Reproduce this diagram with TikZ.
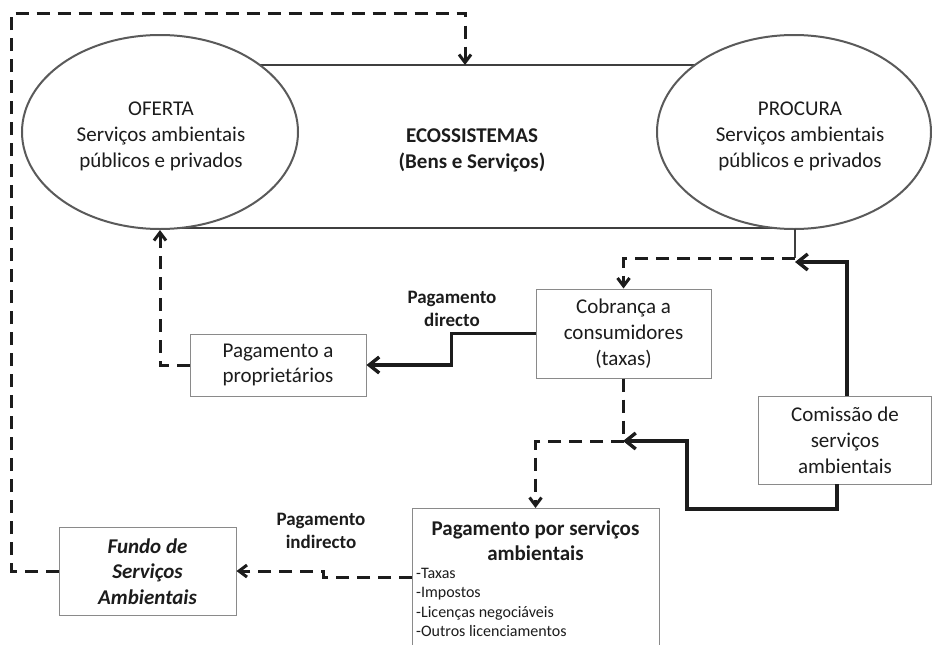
\documentclass[tikz,border=0pt]{standalone}
\usepackage{fontspec}
\setmainfont{Carlito}
\usetikzlibrary{shapes.geometric,arrows.meta}
\definecolor{ink}{HTML}{1C1C1C}
\definecolor{ovalline}{HTML}{5A5A5A}
\definecolor{bandline}{HTML}{3F3F3F}
\definecolor{boxline}{HTML}{8A8A8A}
\begin{document}
\begin{tikzpicture}[x=1pt,y=-1pt,
  every node/.style={text=ink},
  big/.style={font=\fontsize{21}{25.8}\selectfont, align=center},
  bigb/.style={font=\fontsize{21}{25.4}\selectfont\bfseries, align=center},
  lab/.style={font=\fontsize{19}{23}\selectfont\bfseries, align=center},
  small/.style={font=\fontsize{16}{19.4}\selectfont, align=left},
  oval/.style={ellipse, draw=ovalline, line width=2pt, fill=white, inner sep=0pt},
  box/.style={rectangle, draw=boxline, line width=1pt, fill=white, inner sep=0pt},
  dline/.style={draw=ink, line width=3pt, dash pattern=on 13pt off 8pt},
  dflow/.style={dline, -{Straight Barb[length=8pt,width=12pt]}},
  sflow/.style={draw=ink, line width=3.4pt, -{Straight Barb[length=10pt,width=16pt]}},
  thinline/.style={draw=bandline, line width=2.2pt},
]
\useasboundingbox (0,0) rectangle (932,645);
\clip (0,0) rectangle (932,645);

% ecosystem band with supply and demand ovals
\node[rectangle, draw=bandline, line width=2.2pt, minimum width=634pt, minimum height=163pt, inner sep=0pt] (eco) at (477,146.5) {};
\node[oval, minimum width=276pt, minimum height=194pt] (oferta) at (160,132) {};
\node[oval, minimum width=274pt, minimum height=194pt] (procura) at (794,132) {};
\node[big] (oftxt) at (161,136.5) {OFERTA\\Serviços ambientais\\públicos e privados};
\node[big] (prtxt) at (800,136.5) {PROCURA\\Serviços ambientais\\públicos e privados};
\node[bigb] (ecotxt) at (472,150.5) {ECOSSISTEMAS\\(Bens e Serviços)};

% boxes
\node[box, big, minimum width=176pt, minimum height=62pt] (prop) at (278,365) {Pagamento a\\proprietários};
\node[box, big, minimum width=175pt, minimum height=89pt] (cob) at (623.5,333.5) {Cobrança a\\consumidores\\(taxas)};
\node[box, big, minimum width=173pt, minimum height=88pt] (com) at (845,440) {Comissão de\\serviços\\ambientais};
\node[box, minimum width=177pt, minimum height=88pt] (fundo) at (147.5,571) {};
\node[big, font=\fontsize{21}{25.5}\selectfont\bfseries\itshape] (fundotxt) at (147.5,571.5) {Fundo de\\Serviços\\Ambientais};
\node[box, minimum width=247pt, minimum height=190pt, anchor=north] (psa) at (535.5,508) {};
\node[bigb] (psatxt) at (535.5,540.5) {Pagamento por serviços\\ambientais};
\node[small, anchor=north west, inner sep=0pt] (psalist) at (416,568) {-Taxas\\-Impostos\\-Licenças negociáveis\\-Outros licenciamentos};

% labels
\node[lab] (ldir) at (452,309) {Pagamento\\directo};
\node[lab] (lind) at (321,531) {Pagamento\\indirecto};

% junctions and bends
\coordinate (ecoin) at (465,65);
\coordinate (jtop) at (795,258);
\coordinate (jmid) at (623,441);
\coordinate (cbend) at (687,509);
\coordinate (psaout) at (412,577);

% feedback from the fund to the ecosystems
\draw[dflow] (fundo.west) -- ++(-47,0) |- (465,13) -- (ecoin);
% payment to owners reaches the supply side
\draw[dflow] (prop.west) -| (oferta.south);
% direct payment
\draw[sflow] (cob.west) -- ++(-84,0) |- (prop.east);
% demand side to consumer charges
\draw[thinline] (795,229) -- (jtop);
\draw[dflow] (jtop) -| (cob.north);
\draw[sflow] (847,396) |- ([yshift=-4pt]jtop);
% consumer charges to payment for services
\draw[dline] (cob.south) -- (cob.south |- jmid);
\draw[dflow] ([xshift=1pt]jmid) -| (psa.north);
\draw[sflow] (837,484) |- (cbend) |- (jmid);
% indirect payment to the fund
\draw[dflow] (psaout) -- ++(-89,0) |- (fundo.east);
\end{tikzpicture}
\end{document}
